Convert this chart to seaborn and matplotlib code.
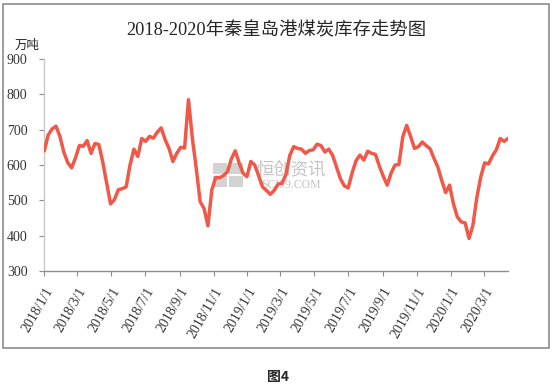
import matplotlib
matplotlib.use("Agg")
import matplotlib.pyplot as plt
from matplotlib.patches import Rectangle
import pandas as pd
import seaborn as sns

# weekly readings of port stock (万吨), starting 2018/1/1
start_date = "2018-01-01"
stock = [640, 685, 702, 710, 681, 637, 607, 592, 620, 655,
         653, 669, 633, 661, 658, 608, 549, 490, 502, 530,
         533, 538, 600, 645, 624, 675, 667, 681, 676, 693,
         705, 672, 647, 610, 633, 650, 648, 785, 675, 590,
         496, 477, 428, 530, 565, 564, 570, 581, 617, 640,
         606, 577, 567, 610, 600, 570, 538, 528, 517, 528,
         546, 548, 573, 627, 652, 647, 645, 633, 641, 643,
         659, 655, 637, 645, 627, 594, 561, 541, 535, 578,
         612, 628, 614, 639, 633, 630, 596, 568, 543, 577,
         600, 601, 680, 712, 681, 647, 652, 665, 655, 646,
         619, 594, 556, 522, 543, 490, 453, 439, 436, 392,
         430, 508, 566, 606, 603, 626, 643, 675, 667, 675]

y_ticks = [300, 400, 500, 600, 700, 800, 900]
x_tick_dates = pd.date_range("2018-01-01", "2020-03-01", freq="2MS")

title = "2018-2020年秦皇岛港煤炭库存走势图"
unit = "万吨"
caption = "图4"

dates = pd.date_range(start_date, periods=len(stock), freq="7D")
df = pd.DataFrame({"date": dates, "stock": stock})

sns.set_theme(style="white")
plt.rcParams["font.family"] = ["Liberation Serif", "Noto Sans CJK SC", "DejaVu Sans"]

W, H = 556, 389
fig = plt.figure(figsize=(W / 100, H / 100), dpi=100)
ax = fig.add_axes([44.3 / W, 1 - 271 / H, (508 - 44.3) / W, (271 - 59) / H])
ax.set_facecolor("none")

sns.lineplot(data=df, x="date", y="stock", ax=ax, color="#F0594A",
             linewidth=2.5, zorder=3)

# watermark behind the line
wm = "#d3d3d3"
for (x0, y0) in [(213, 163), (229, 163), (213, 176), (229, 176)]:
    ax.add_patch(Rectangle((x0 / W, 1 - (y0 + 11) / H), 14 / W, 11 / H,
                           transform=fig.transFigure, color=wm, zorder=1, lw=0))
ax.text(291 / W, 1 - 169 / H, "恒创资讯", transform=fig.transFigure, ha="center",
        va="center", fontsize=12.5, color="#c4c4c4", zorder=1,
        family=["Noto Sans CJK SC"])
ax.text(291 / W, 1 - 184.5 / H, "SCI99.COM", transform=fig.transFigure, ha="center",
        va="center", fontsize=8.5, color="#c4c4c4", zorder=1)

ax.set_xlim(dates[0], dates[-1])
ax.set_ylim(300, 900)
ax.set_yticks(y_ticks)
ax.set_xticks(x_tick_dates)
ax.set_xticklabels([f"{d.year}/{d.month}/{d.day}" for d in x_tick_dates],
                   rotation=60, ha="right", rotation_mode="anchor")
ax.set_xlabel("")
ax.set_ylabel("")

ax.tick_params(axis="both", direction="out", length=3.6, width=0.8,
               color="#8c8c8c", labelsize=10, labelcolor="#333333",
               bottom=True, left=True)
ax.tick_params(axis="y", pad=8.5)
ax.tick_params(axis="x", pad=6.5)

for s in ["top", "right"]:
    ax.spines[s].set_visible(False)
ax.spines["left"].set_color("#c8c8c8")
ax.spines["bottom"].set_color("#8c8c8c")
ax.spines["left"].set_linewidth(1)
ax.spines["bottom"].set_linewidth(1)

# outer chart frame
fig.patches.append(Rectangle((3 / W, 1 - 348 / H), (549 - 3) / W, (348 - 4) / H,
                             transform=fig.transFigure, fill=False,
                             edgecolor="#8c8c8c", lw=1.2))

fig.text(0.497, 1 - 31 / H, title, ha="center", va="center", fontsize=13.2)
fig.text(27 / W, 1 - 45 / H, unit, ha="center", va="center", fontsize=9,
         family=["Noto Sans CJK SC"])
fig.text(278 / W, 1 - 377 / H, caption, ha="center", va="center", fontsize=10,
         fontweight="bold", family=["Noto Sans CJK SC", "DejaVu Sans"])

fig.savefig("out.png", dpi=100)
